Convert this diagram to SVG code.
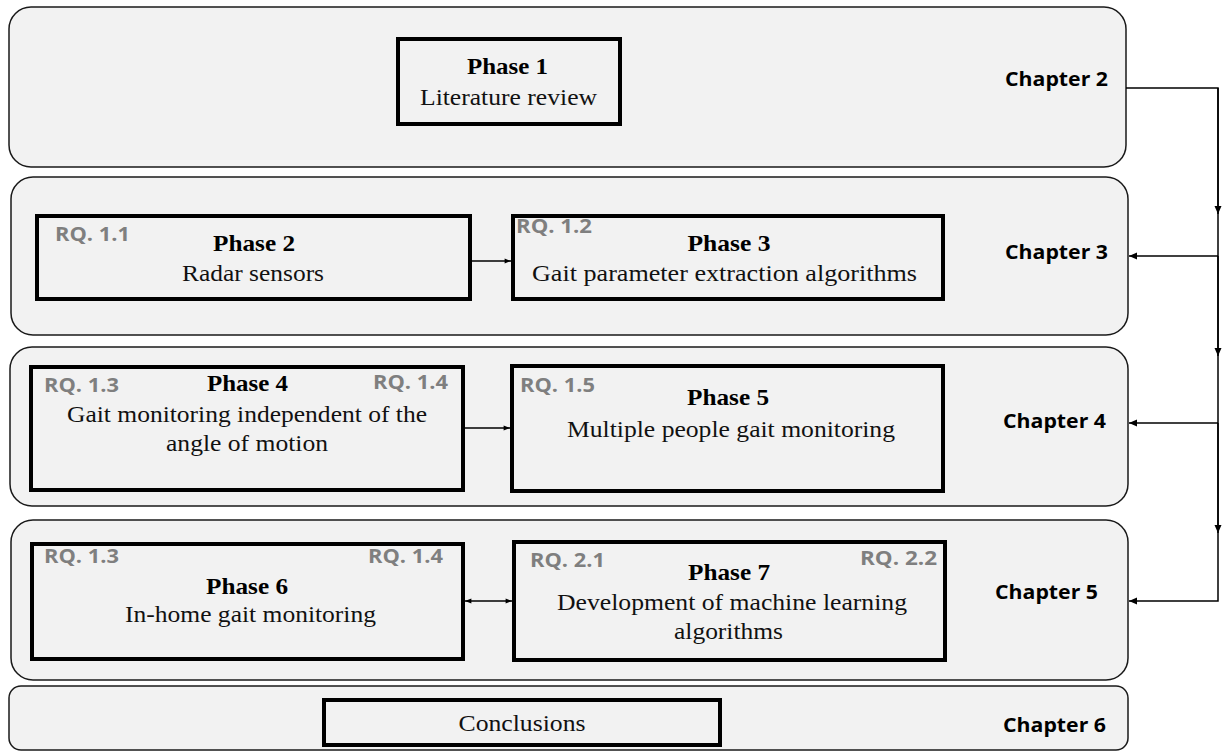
<svg xmlns="http://www.w3.org/2000/svg" width="1229" height="752" viewBox="0 0 1229 752">
<style>
.bg{fill:#ffffff}
.ch{fill:#f2f2f2;stroke:#1a1a1a;stroke-width:1.5}
.ph{fill:#f2f2f2;stroke:#000;stroke-width:4}
.t{font-family:"Liberation Serif","Times New Roman",serif;font-size:24px;fill:#111;text-anchor:middle}
.tb{font-family:"Liberation Serif","Times New Roman",serif;font-size:23px;font-weight:bold;fill:#000;text-anchor:middle}
.rq{font-family:"Open Sans","Liberation Sans",sans-serif;font-size:19px;font-weight:bold;fill:#7f7f7f}
.cl{font-family:"Open Sans","Liberation Sans",sans-serif;font-size:19px;font-weight:bold;fill:#000}
.ln{fill:none;stroke:#000;stroke-width:1.5}
</style>
<defs>
<marker id="ah" markerUnits="userSpaceOnUse" markerWidth="10" markerHeight="10" viewBox="0 0 10 10" refX="9" refY="5" orient="auto">
<path d="M1,1.5 L9,5 L1,8.5 Z" fill="#000"/>
</marker>
<marker id="ahs" markerUnits="userSpaceOnUse" markerWidth="8" markerHeight="8" viewBox="0 0 10 10" refX="9" refY="5" orient="auto-start-reverse">
<path d="M1,2 L9,5 L1,8 Z" fill="#000"/>
</marker>
</defs>
<rect class="bg" x="0" y="0" width="1229" height="752"/>

<g id="chapter2">
<rect class="ch" x="9" y="7" width="1117" height="160" rx="22"/>
<text class="cl" x="1005" y="86" textLength="103" lengthAdjust="spacingAndGlyphs">Chapter 2</text>
</g>
<g id="chapter3">
<rect class="ch" x="11" y="177" width="1117" height="158" rx="22"/>
<text class="cl" x="1005" y="259" textLength="103" lengthAdjust="spacingAndGlyphs">Chapter 3</text>
</g>
<g id="chapter4">
<rect class="ch" x="10" y="347" width="1118" height="159" rx="22"/>
<text class="cl" x="1003" y="428" textLength="103" lengthAdjust="spacingAndGlyphs">Chapter 4</text>
</g>
<g id="chapter5">
<rect class="ch" x="11" y="520" width="1117" height="160" rx="22"/>
<text class="cl" x="995" y="599" textLength="103" lengthAdjust="spacingAndGlyphs">Chapter 5</text>
</g>
<g id="chapter6">
<rect class="ch" x="9" y="686" width="1119" height="64" rx="12"/>
<text class="cl" x="1003" y="732" textLength="103" lengthAdjust="spacingAndGlyphs">Chapter 6</text>
</g>

<g id="phase1">
<rect class="ph" x="398" y="39" width="222" height="85"/>
<text class="tb" x="507.5" y="74" textLength="81" lengthAdjust="spacingAndGlyphs">Phase 1</text>
<text class="t" x="508.5" y="105" textLength="177" lengthAdjust="spacingAndGlyphs">Literature review</text>
</g>

<g id="phase2">
<rect class="ph" x="37" y="216" width="433" height="83"/>
<text class="rq" x="55" y="241" textLength="75" lengthAdjust="spacingAndGlyphs">RQ. 1.1</text>
<text class="tb" x="254" y="251" textLength="82" lengthAdjust="spacingAndGlyphs">Phase 2</text>
<text class="t" x="253" y="281" textLength="142" lengthAdjust="spacingAndGlyphs">Radar sensors</text>
</g>

<g id="phase3">
<rect class="ph" x="513" y="216" width="430" height="83"/>
<text class="rq" x="516" y="233" textLength="76" lengthAdjust="spacingAndGlyphs">RQ. 1.2</text>
<text class="tb" x="729" y="251" textLength="83" lengthAdjust="spacingAndGlyphs">Phase 3</text>
<text class="t" x="724.5" y="281" textLength="385" lengthAdjust="spacingAndGlyphs">Gait parameter extraction algorithms</text>
</g>

<g id="phase4">
<rect class="ph" x="31" y="367" width="432" height="123"/>
<text class="rq" x="44" y="392" textLength="75" lengthAdjust="spacingAndGlyphs">RQ. 1.3</text>
<text class="rq" x="373" y="389" textLength="75" lengthAdjust="spacingAndGlyphs">RQ. 1.4</text>
<text class="tb" x="247.5" y="391" textLength="81" lengthAdjust="spacingAndGlyphs">Phase 4</text>
<text class="t" x="247" y="422" textLength="360" lengthAdjust="spacingAndGlyphs">Gait monitoring independent of the</text>
<text class="t" x="247" y="451" textLength="162" lengthAdjust="spacingAndGlyphs">angle of motion</text>
</g>

<g id="phase5">
<rect class="ph" x="512" y="366" width="431" height="125"/>
<text class="rq" x="520" y="392" textLength="75" lengthAdjust="spacingAndGlyphs">RQ. 1.5</text>
<text class="tb" x="728" y="405" textLength="82" lengthAdjust="spacingAndGlyphs">Phase 5</text>
<text class="t" x="731" y="437" textLength="328" lengthAdjust="spacingAndGlyphs">Multiple people gait monitoring</text>
</g>

<g id="phase6">
<rect class="ph" x="32" y="544" width="431" height="115"/>
<text class="rq" x="44" y="563" textLength="75" lengthAdjust="spacingAndGlyphs">RQ. 1.3</text>
<text class="rq" x="368" y="563" textLength="75" lengthAdjust="spacingAndGlyphs">RQ. 1.4</text>
<text class="tb" x="247" y="594" textLength="82" lengthAdjust="spacingAndGlyphs">Phase 6</text>
<text class="t" x="250.5" y="622" textLength="251" lengthAdjust="spacingAndGlyphs">In-home gait monitoring</text>
</g>

<g id="phase7">
<rect class="ph" x="514" y="542" width="431" height="118"/>
<text class="rq" x="530" y="567" textLength="75" lengthAdjust="spacingAndGlyphs">RQ. 2.1</text>
<text class="rq" x="860" y="565" textLength="77" lengthAdjust="spacingAndGlyphs">RQ. 2.2</text>
<text class="tb" x="729" y="580" textLength="82" lengthAdjust="spacingAndGlyphs">Phase 7</text>
<text class="t" x="732" y="610" textLength="350" lengthAdjust="spacingAndGlyphs">Development of machine learning</text>
<text class="t" x="728.5" y="639" textLength="109" lengthAdjust="spacingAndGlyphs">algorithms</text>
</g>

<g id="conclusions">
<rect class="ph" x="324" y="700" width="396" height="45"/>
<text class="t" x="522" y="731" textLength="127" lengthAdjust="spacingAndGlyphs">Conclusions</text>
</g>

<g id="connectors">
<path class="ln" d="M471 261 H511" marker-end="url(#ahs)"/>
<path class="ln" d="M465 428 H510" marker-end="url(#ahs)"/>
<path class="ln" d="M465 601 H512" marker-start="url(#ahs)" marker-end="url(#ahs)"/>
<path class="ln" d="M1126 88 H1218 V601 H1129" marker-end="url(#ah)"/>
<path class="ln" d="M1218 88 V214" marker-end="url(#ah)"/>
<path class="ln" d="M1218 256 V356" marker-end="url(#ah)"/>
<path class="ln" d="M1218 423 V533" marker-end="url(#ah)"/>
<path class="ln" d="M1218 256 H1129" marker-end="url(#ah)"/>
<path class="ln" d="M1218 423 H1129" marker-end="url(#ah)"/>
</g>
</svg>
